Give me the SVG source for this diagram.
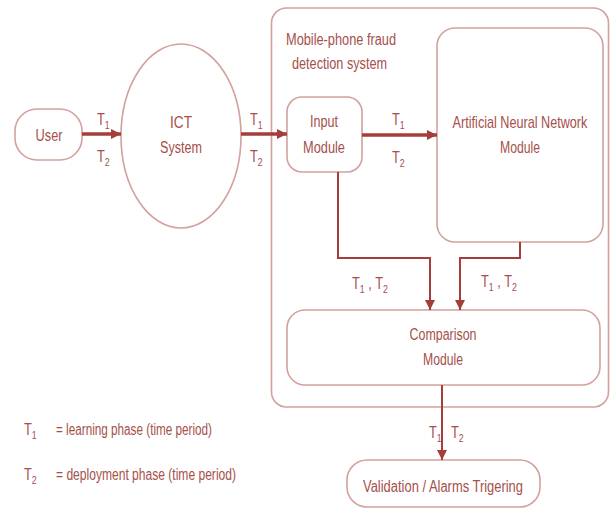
<svg xmlns="http://www.w3.org/2000/svg" width="611" height="510" viewBox="0 0 611 510">
<defs>
<style>
.box{fill:none;stroke:#d3a19d;stroke-width:1.6}
.t{font-family:"Liberation Sans",Arial,sans-serif;font-size:16px;fill:#a5504b}
.c{text-anchor:middle}
.thick{fill:none;stroke:#a53e3a;stroke-width:3.5}
.thin{fill:none;stroke:#a53e3a;stroke-width:2}
.s{font-size:11px}
</style>
<marker id="ah" viewBox="0 0 10 10" refX="10" refY="5" markerWidth="12" markerHeight="10" markerUnits="userSpaceOnUse" orient="auto"><path d="M0,0 L10,5 L0,10 z" fill="#a53e3a"/></marker>
</defs>
<rect width="611" height="510" fill="#ffffff"/>

<g id="container">
<rect class="box" x="271.5" y="8" width="337" height="399" rx="15"/>
<text class="t" x="286" y="45" textLength="110" lengthAdjust="spacingAndGlyphs">Mobile-phone fraud</text>
<text class="t" x="292" y="69" textLength="95" lengthAdjust="spacingAndGlyphs">detection system</text>
</g>

<g id="user">
<rect class="box" x="15" y="109" width="67" height="51" rx="22"/>
<text class="t c" x="49" y="141" textLength="27" lengthAdjust="spacingAndGlyphs">User</text>
</g>

<g id="ict">
<ellipse class="box" cx="181" cy="136" rx="60" ry="92"/>
<text class="t c" x="181" y="128" textLength="22" lengthAdjust="spacingAndGlyphs">ICT</text>
<text class="t c" x="181" y="153" textLength="42" lengthAdjust="spacingAndGlyphs">System</text>
</g>

<g id="input">
<rect class="box" x="287" y="97" width="75" height="75" rx="15"/>
<text class="t c" x="324" y="127" textLength="28" lengthAdjust="spacingAndGlyphs">Input</text>
<text class="t c" x="324" y="153" textLength="42" lengthAdjust="spacingAndGlyphs">Module</text>
</g>

<g id="ann">
<rect class="box" x="437" y="28" width="166" height="214" rx="18"/>
<text class="t c" transform="translate(520,128) scale(0.79,1)">Artificial Neural Network</text>
<text class="t c" x="520" y="153" textLength="40" lengthAdjust="spacingAndGlyphs">Module</text>
</g>

<g id="comparison">
<rect class="box" x="287" y="310" width="313" height="75" rx="18"/>
<text class="t c" x="443" y="340" textLength="67" lengthAdjust="spacingAndGlyphs">Comparison</text>
<text class="t c" x="443" y="365" textLength="40" lengthAdjust="spacingAndGlyphs">Module</text>
</g>

<g id="validation">
<rect class="box" x="347" y="460" width="193" height="47" rx="20"/>
<text class="t c" x="443" y="492" textLength="160" lengthAdjust="spacingAndGlyphs">Validation / Alarms Trigering</text>
</g>

<g id="connectors">
<line class="thick" x1="82" y1="134" x2="121" y2="134" marker-end="url(#ah)"/>
<line class="thick" x1="241" y1="134" x2="287" y2="134" marker-end="url(#ah)"/>
<line class="thick" x1="362" y1="135" x2="437" y2="135" marker-end="url(#ah)"/>
<polyline class="thin" points="338,172 338,258 430,258 430,310" marker-end="url(#ah)"/>
<polyline class="thin" points="520,242 520,258 460,258 460,310" marker-end="url(#ah)"/>
<line class="thin" x1="442" y1="385" x2="442" y2="460" marker-end="url(#ah)"/>
</g>

<g id="labels">
<text class="t" transform="translate(97,125) scale(0.8,1)">T<tspan class="s" dy="4">1</tspan></text>
<text class="t" transform="translate(97,162) scale(0.8,1)">T<tspan class="s" dy="4">2</tspan></text>
<text class="t" transform="translate(250,125) scale(0.8,1)">T<tspan class="s" dy="4">1</tspan></text>
<text class="t" transform="translate(250,162) scale(0.8,1)">T<tspan class="s" dy="4">2</tspan></text>
<text class="t" transform="translate(392,125) scale(0.8,1)">T<tspan class="s" dy="4">1</tspan></text>
<text class="t" transform="translate(392,163) scale(0.8,1)">T<tspan class="s" dy="4">2</tspan></text>
<text class="t" transform="translate(352,289) scale(0.8,1)">T<tspan class="s" dy="4">1</tspan><tspan dy="-4"> , T</tspan><tspan class="s" dy="4">2</tspan></text>
<text class="t" transform="translate(481,287) scale(0.8,1)">T<tspan class="s" dy="4">1</tspan><tspan dy="-4">  , T</tspan><tspan class="s" dy="4">2</tspan></text>
<text class="t" transform="translate(429,438) scale(0.8,1)">T<tspan class="s" dy="4">1</tspan></text>
<text class="t" transform="translate(451,438) scale(0.8,1)">T<tspan class="s" dy="4">2</tspan></text>
</g>

<g id="legend">
<text class="t" transform="translate(24,435) scale(0.8,1)">T<tspan class="s" dy="4">1</tspan></text>
<text class="t" x="56" y="435" textLength="156" lengthAdjust="spacingAndGlyphs">= learning phase (time period)</text>
<text class="t" transform="translate(24,480) scale(0.8,1)">T<tspan class="s" dy="4">2</tspan></text>
<text class="t" x="56" y="480" textLength="180" lengthAdjust="spacingAndGlyphs">= deployment phase (time period)</text>
</g>
</svg>
